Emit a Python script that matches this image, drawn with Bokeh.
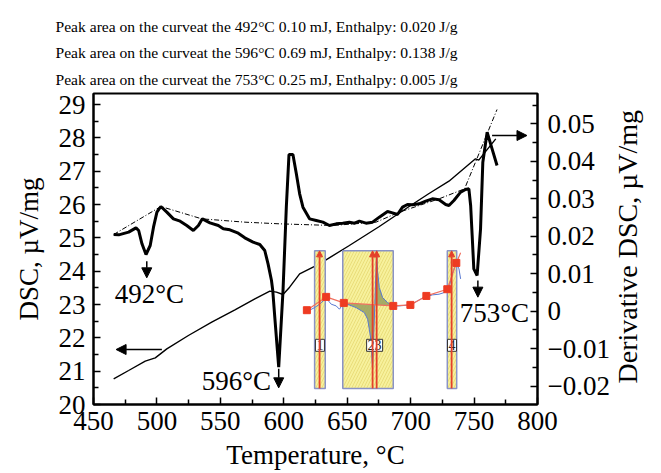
import math
from bokeh.plotting import figure
from bokeh.models import (Range1d, LinearAxis, FixedTicker, CustomJSTickFormatter, Title,
                          Arrow, NormalHead, ColumnDataSource)
from bokeh.core.properties import value
from bokeh.embed import file_html
from bokeh.resources import INLINE

FONT = "Liberation Serif"

# ---------------- data ----------------
dsc_temp = [465.9, 469.9, 477.7, 483.5, 485.6, 488.2, 491.4, 494.7, 497.3, 500.0, 503.1, 507.8,
            513.0, 518.3, 523.5, 528.7, 532.7, 535.8, 541.8, 548.4, 552.3, 557.5, 564.1, 569.3,
            575.8, 581.1, 585.0, 587.6, 590.3, 591.3, 592.9, 596.0, 599.4, 602.0, 604.1, 607.2,
            609.9, 612.5, 615.1, 620.3, 625.6, 630.8, 636.0, 641.3, 646.5, 651.7, 655.7, 659.6,
            664.8, 670.0, 675.3, 681.8, 685.7, 689.6, 693.6, 697.5, 701.4, 706.7, 711.9, 717.1,
            722.4, 727.6, 730.2, 734.1, 739.4, 743.3, 745.9, 747.3, 748.5, 749.8, 752.4, 755.1,
            756.9, 760.3, 764.2, 768.1]
dsc_val = [25.10, 25.09, 25.17, 25.30, 25.22, 24.82, 24.50, 24.77, 25.32, 25.77, 25.94, 25.77,
           25.57, 25.50, 25.37, 25.22, 25.37, 25.57, 25.45, 25.37, 25.27, 25.24, 25.14, 25.00,
           24.87, 24.80, 24.62, 24.22, 23.72, 23.42, 22.62, 21.12, 23.42, 25.92, 27.50, 27.50,
           26.92, 26.32, 25.92, 25.57, 25.52, 25.47, 25.37, 25.42, 25.44, 25.47, 25.44, 25.50,
           25.44, 25.47, 25.62, 25.79, 25.75, 25.70, 25.92, 26.00, 25.99, 26.02, 26.10, 26.17,
           26.14, 26.00, 25.97, 26.12, 26.37, 26.45, 26.47, 25.97, 25.07, 24.07, 23.87, 25.27,
           27.27, 28.17, 27.67, 27.17]

base_temp = [465.9, 503.1, 535.3, 569.3, 596.8, 638.6, 672.7, 691.0, 722.4, 742.5, 768.1]
base_val = [25.10, 25.94, 25.57, 25.47, 25.42, 25.37, 25.47, 25.77, 26.17, 26.47, 28.85]

thin_temp = [465.9, 477.7, 490.8, 498.7, 507.8, 524.8, 543.2, 561.5, 577.2, 589.0, 594.2, 599.4,
             604.6, 612.5, 628.2, 651.7, 675.3, 698.8, 714.5, 730.2, 751.1, 753.7, 757.6, 767.1]
thin_val = [20.77, 21.02, 21.30, 21.40, 21.67, 22.07, 22.47, 22.84, 23.17, 23.40, 23.37, 23.30,
            23.52, 23.92, 24.22, 24.77, 25.34, 25.94, 26.33, 26.70, 27.37, 27.33, 27.52, 27.97]

peak_temps = [492, 596, 753]
peak_area_mj = [0.10, 0.69, 0.25]
peak_enthalpy = [0.020, 0.138, 0.005]

# inset (derivative DSC, right axis)
win_left = [624.3, 646.5, 728.9]
win_right = [632.7, 686.3, 736.3]
win_bottom = [-0.0206, -0.0206, -0.0206]
win_top = [0.0161, 0.0161, 0.0161]
win_names = ["1", "23", "4"]
mark_temp = [628.2, 670.0, 673.2, 732.3]
sq_temp = [618.2, 633.4, 647.3, 686.3, 699.8, 712.4, 728.9, 736.0]
sq_val = [0.00027, 0.00382, 0.00222, 0.00141, 0.00168, 0.00408, 0.00587, 0.01289]
red_tail_temp = [739.4]
red_tail_val = [0.0156]
blue_temp = [618.2, 624.3, 628.2, 633.4, 637.4, 641.3, 643.9, 647.3, 657.0, 663.5, 666.1, 667.4,
             668.8, 669.6, 670.0, 673.2, 673.9, 675.3, 677.9, 681.8, 686.3, 691.0, 699.8, 705.3,
             709.3, 712.4, 717.1, 722.4, 726.3, 730.2, 732.8, 736.0, 738.1, 739.4]
blue_val = [-0.0001, 0.00096, 0.00187, 0.00347, 0.00187, 0.00141, 0.00053, 0.00222, 0.00096,
            -0.00037, -0.00214, -0.0048, -0.00793, -0.01326, -0.01548, 0.01609, 0.01075, 0.0063,
            0.00363, 0.0023, 0.00141, 0.00141, 0.00168, 0.00275, 0.00347, 0.00382, 0.00435,
            0.00454, 0.00496, 0.0063, 0.00987, 0.01289, 0.01129, 0.00862]

x_ticks = [450, 500, 550, 600, 650, 700, 750, 800]
y_ticks = [20, 21, 22, 23, 24, 25, 26, 27, 28, 29]
d_ticks = [-0.02, -0.01, 0.0, 0.01, 0.02, 0.03, 0.04, 0.05]

# ---------------- figure ----------------
p = figure(width=661, height=473, x_range=Range1d(450, 800), y_range=Range1d(20, 29.33),
           output_backend="svg", toolbar_location=None,
           min_border_left=93, min_border_right=122, min_border_top=93, min_border_bottom=69)
p.extra_y_ranges = {"deriv": Range1d(-0.0249, 0.0581)}
p.xgrid.grid_line_color = None
p.ygrid.grid_line_color = None
p.outline_line_color = "black"
p.outline_line_width = 2
p.outline_line_alpha = 1
p.background_fill_color = "white"
p.border_fill_color = "white"

raxis = LinearAxis(y_range_name="deriv")
p.add_layout(raxis, "right")

p.xaxis.ticker = FixedTicker(ticks=x_ticks, minor_ticks=[475, 525, 575, 625, 675, 725, 775])
p.yaxis.ticker = FixedTicker(ticks=y_ticks, minor_ticks=[v + 0.5 for v in y_ticks])
raxis.ticker = FixedTicker(ticks=d_ticks, minor_ticks=[-0.025, -0.015, -0.005, 0.005, 0.015,
                                                        0.025, 0.035, 0.045, 0.055])
raxis.formatter = CustomJSTickFormatter(code="""
if (Math.abs(tick) < 1e-9) { return '0'; }
return (tick < 0 ? '\u2212' : '') + Math.abs(tick).toFixed(2);
""")

for ax in [p.xaxis[0], p.yaxis[0], raxis]:
    ax.axis_line_width = 2
    ax.axis_line_color = "black"
    ax.major_tick_in = 7
    ax.major_tick_out = 0
    ax.minor_tick_in = 5
    ax.minor_tick_out = 0
    ax.major_tick_line_width = 1.5
    ax.minor_tick_line_width = 1.5
    ax.major_tick_line_color = "black"
    ax.minor_tick_line_color = "black"
    ax.major_label_text_font = FONT
    ax.major_label_text_font_size = "27px"
    ax.major_label_text_color = "black"
    ax.axis_label_text_font = FONT
    ax.axis_label_text_font_size = "27px"
    ax.axis_label_text_font_style = "normal"
    ax.axis_label_text_color = "black"
p.xaxis.major_label_standoff = 7
p.yaxis.major_label_standoff = 8
raxis.major_label_standoff = 10

p.xaxis.axis_label = "Temperature, °C"
p.xaxis.axis_label_standoff = 7
p.yaxis.axis_label = "DSC, µV/mg"
p.yaxis.axis_label_standoff = 12
raxis.axis_label = "\u00a0\u00a0\u00a0Derivative DSC, µV/mg"
raxis.axis_label_standoff = 15
raxis.axis_label_text_font_size = "28px"
props = raxis.properties()
if "axis_label_orientation" in props:
    raxis.axis_label_orientation = math.pi / 2
if "axis_label_align" in props:
    raxis.axis_label_align = "start"

# main curves
p.line(thin_temp, thin_val, line_color="black", line_width=1.4)
p.line(base_temp, base_val, line_color="black", line_width=1, line_dash="5 2 1 2")
p.line(dsc_temp, dsc_val, line_color="black", line_width=3)

# inset
p.quad(left=win_left, right=win_right, bottom=win_bottom, top=win_top, y_range_name="deriv",
       fill_color="#f7f19c", line_color="#8a93c6", line_width=1.5,
       hatch_pattern="/", hatch_color="#e3d56c", hatch_scale=6, hatch_weight=0.8, hatch_alpha=0.9)
i0 = blue_temp.index(647.3)
i1 = blue_temp.index(686.3)
p.patch(blue_temp[i0:i1 + 1], blue_val[i0:i1 + 1], y_range_name="deriv",
        fill_color="#98a05e", fill_alpha=0.85, line_color=None)
p.line(blue_temp, blue_val, y_range_name="deriv", line_color="#5878d0", line_width=1)
p.line(sq_temp + red_tail_temp, sq_val + red_tail_val, y_range_name="deriv",
       line_color="#f07060", line_width=1.2)
mark_src = ColumnDataSource(dict(x=mark_temp, y0=[win_bottom[0]] * len(mark_temp),
                                 y1=[win_top[0]] * len(mark_temp)))
p.add_layout(Arrow(source=mark_src, x_start="x", y_start="y0", x_end="x", y_end="y1",
                   y_range_name="deriv", line_color="#e4402a", line_width=1.8,
                   end=NormalHead(size=6, fill_color="#e4402a", line_color="#e4402a")))
p.scatter(sq_temp, sq_val, y_range_name="deriv", marker="square", size=7,
          fill_color="#ee3b22", line_color="#ee3b22")
lab_x = [(a + b) / 2 for a, b in zip(win_left, win_right)]
lab_x[1] = mark_temp[1] + 1.6
p.text(x=lab_x, y=[-0.0091] * 3, text=win_names, y_range_name="deriv",
       text_font=value(FONT), text_font_size="14px", text_align="center",
       text_baseline="middle", text_color="#222222", background_fill_color="white",
       border_line_color="#333333", border_line_width=1, padding=1)

# peak arrows and labels
head = dict(size=10, fill_color="black", line_color="black")
dmin = [min(v for t, v in zip(dsc_temp, dsc_val) if abs(t - pt) < 4) for pt in peak_temps]
arrow_gap = [0.2, 0.05, 0.15]
arrow_len = [0.5, 0.57, 0.5]
for pt, m, g, L in zip(peak_temps, dmin, arrow_gap, arrow_len):
    p.add_layout(Arrow(x_start=pt, y_start=m - g, x_end=pt, y_end=m - g - L,
                       line_color="black", line_width=1.5, end=NormalHead(**head)))
lab_dx = [2, -33.4, 13]
lab_dy = [-1.17, -0.4, -1.11]
p.text(x=[pt + dx for pt, dx in zip(peak_temps, lab_dx)],
       y=[m + dy for m, dy in zip(dmin, lab_dy)],
       text=[f"{pt}°C" for pt in peak_temps], text_font=value(FONT), text_font_size="27px",
       text_align="center", text_baseline="middle", text_color="black")

# axis pointer arrows
p.add_layout(Arrow(x_start=503.9, y_start=21.65, x_end=467.8, y_end=21.65,
                   line_color="black", line_width=1.5, end=NormalHead(**head)))
p.add_layout(Arrow(x_start=764.2, y_start=28.07, x_end=791.7, y_end=28.07,
                   line_color="black", line_width=1.5, end=NormalHead(**head)))

# header lines (added bottom-most first)
standoffs = [9, 4, 12]
header = []
for pt, a, e in zip(peak_temps, peak_area_mj, peak_enthalpy):
    header.append(f"Peak area on the curveat the {pt}°C {a:.2f} mJ, Enthalpy: {e:.3f} J/g")
for txt, so in reversed(list(zip(header, standoffs))):
    p.add_layout(Title(text=txt, align="left", offset=-38, standoff=so, text_font=FONT,
                       text_font_size="15.6px", text_font_style="normal",
                       text_color="black"), "above")

open("out.html", "w").write(file_html(p, INLINE))
